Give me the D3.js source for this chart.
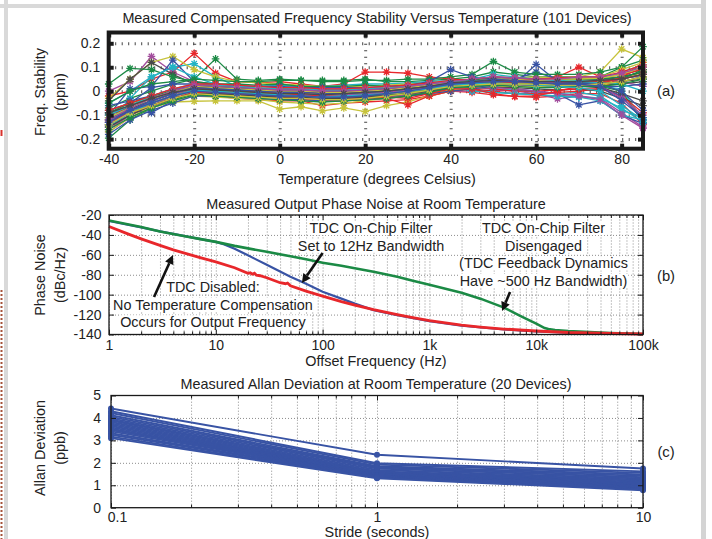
<!DOCTYPE html>
<html>
<head>
<meta charset="utf-8">
<script src="https://cdn.jsdelivr.net/npm/d3@7"></script>
<style>
body { margin: 0; background: #fff; }
svg { display: block; font-family: "Liberation Sans", Arial, Helvetica, sans-serif; }
</style>
</head>
<body>
<svg id="fig" width="712" height="539"></svg>
<script>
// ---------------- data: (a) frequency stability vs temperature ----------------
const temps = [-40,-35,-30,-25,-20,-15,-10,-5,0,5,10,15,20,25,30,35,40,45,50,55,60,65,70,75,80,85];
const tempTicks = [-40,-20,0,20,40,60,80];
const ppmTicks = [-0.2,-0.1,0,0.1,0.2];
const ppmTickLabels = ["-0.2","-0.1","0","0.1","0.2"];
// one row per device (subset of the 101 devices), ppm
const stabilityPpm = [
  [-0.12,-0.06,-0.02,0.01,0.02,0.015,0.01,0.005,0.0,-0.005,-0.01,-0.01,-0.005,0.0,0.005,0.02,0.03,0.035,0.04,0.04,0.045,0.04,0.04,0.045,0.06,0.08],
  [-0.07,-0.03,0.0,0.03,0.05,0.135,0.05,0.045,0.05,0.045,0.045,0.045,0.05,0.04,0.04,0.045,0.05,0.06,0.08,0.07,0.06,0.06,0.06,0.06,0.07,0.09],
  [-0.02,0.0,0.05,0.08,0.158,0.075,0.04,0.035,0.04,0.03,0.02,0.03,0.08,0.08,0.075,0.06,0.05,0.045,0.05,0.04,0.05,0.06,0.1,0.06,0.07,0.09],
  [-0.05,0.0,0.06,0.1,0.115,0.06,0.02,0.02,0.025,0.02,0.02,0.025,0.03,0.03,0.035,0.04,0.045,0.04,0.05,0.04,0.035,0.03,0.03,0.02,0.01,-0.12],
  [0.0,0.04,0.145,0.08,0.04,0.03,0.02,0.02,0.015,0.02,0.01,0.01,0.01,0.015,0.02,0.03,0.035,0.04,0.05,0.05,0.045,0.04,0.04,0.045,0.05,0.07],
  [-0.03,0.05,0.12,0.145,0.09,0.06,0.04,0.035,0.03,0.025,0.02,0.02,0.02,0.025,0.03,0.035,0.04,0.05,0.055,0.055,0.06,0.055,0.06,0.08,0.176,0.14],
  [-0.04,0.05,0.12,0.07,0.03,0.02,0.01,0.0,-0.005,-0.01,-0.015,-0.01,0.0,0.005,0.01,0.02,0.03,0.03,0.035,0.03,0.03,0.03,0.03,0.035,0.04,0.05],
  [-0.1,0.01,0.02,0.13,0.04,0.025,0.015,0.01,0.005,0.0,-0.005,0.0,0.005,0.01,0.015,0.02,0.03,0.04,0.05,0.05,0.08,0.05,0.04,0.05,0.06,0.06],
  [0.03,0.095,0.09,0.06,0.04,0.03,0.03,0.025,0.03,0.02,0.02,0.02,0.025,0.02,0.02,0.025,0.03,0.03,0.04,0.035,0.03,0.03,0.025,0.02,0.0,-0.13],
  [-0.15,-0.1,-0.06,-0.03,-0.01,-0.02,-0.03,-0.035,-0.04,-0.04,-0.06,-0.05,-0.045,-0.04,-0.035,-0.02,0.0,-0.005,-0.015,-0.022,-0.026,-0.02,-0.01,-0.01,-0.05,-0.14],
  [-0.13,-0.03,0.06,0.1,0.06,0.03,0.01,0.005,0.0,-0.005,-0.01,-0.01,-0.005,0.0,0.005,0.01,0.02,0.015,0.01,0.005,-0.005,-0.01,-0.005,-0.02,-0.08,-0.11],
  [-0.17,-0.11,-0.07,-0.03,-0.005,-0.01,-0.015,-0.02,-0.025,-0.03,-0.035,-0.035,-0.03,-0.025,-0.02,-0.01,0.0,0.0,0.005,0.0,-0.01,-0.032,-0.02,-0.03,-0.09,-0.15],
  [-0.16,-0.1,-0.07,-0.045,-0.042,-0.04,-0.04,-0.04,-0.075,-0.065,-0.082,-0.07,-0.085,-0.06,-0.045,-0.02,0.0,0.01,0.02,0.02,0.02,0.025,0.03,0.03,0.05,0.08],
  [-0.11,-0.07,-0.04,-0.01,0.01,0.005,0.0,-0.005,-0.01,-0.015,-0.02,-0.02,-0.02,-0.015,-0.01,0.0,0.01,0.015,0.02,0.02,0.02,0.02,0.02,0.025,0.03,0.04],
  [-0.14,-0.08,-0.09,-0.04,0.0,0.0,-0.005,-0.01,-0.015,-0.02,-0.025,-0.025,-0.02,-0.015,-0.01,0.0,0.01,0.02,0.02,0.01,0.0,-0.01,-0.057,-0.04,-0.1,-0.135],
  [-0.196,-0.12,-0.07,-0.035,-0.01,-0.01,-0.015,-0.02,-0.02,-0.02,-0.025,-0.025,-0.02,-0.015,-0.01,-0.005,0.005,0.01,0.02,0.02,0.025,0.03,0.04,0.06,0.1,0.186],
  [-0.12,-0.08,-0.05,-0.02,0.0,0.0,-0.01,-0.02,-0.03,-0.035,-0.04,-0.04,-0.035,-0.03,-0.057,-0.02,0.0,0.01,0.0,-0.01,-0.01,-0.005,0.0,0.01,0.06,0.1],
  [-0.09,-0.06,-0.03,-0.01,0.01,0.01,0.005,0.0,-0.005,-0.01,-0.015,-0.015,-0.01,-0.005,0.0,0.01,0.015,0.005,-0.005,-0.01,-0.015,-0.02,-0.025,-0.04,-0.1,-0.12],
  [-0.15,-0.1,-0.06,-0.02,0.005,0.0,-0.005,-0.01,-0.015,-0.02,-0.025,-0.03,-0.03,-0.025,-0.02,-0.01,0.005,0.01,0.02,0.02,0.025,0.03,0.04,0.05,0.07,0.1],
  [-0.08,-0.05,-0.03,-0.01,0.005,0.0,-0.005,-0.01,-0.015,-0.015,-0.02,-0.02,-0.015,-0.01,-0.005,0.005,0.015,0.02,0.03,0.035,0.04,0.04,0.045,0.05,0.07,0.1],
  [-0.13,-0.08,-0.05,-0.02,0.0,-0.005,-0.01,-0.015,-0.02,-0.02,-0.025,-0.025,-0.025,-0.02,-0.015,-0.005,0.005,0.01,0.015,0.015,0.01,0.005,0.01,0.0,-0.03,-0.06],
  [-0.06,-0.04,-0.02,0.0,0.025,0.02,0.015,0.01,0.01,0.01,0.005,0.005,0.01,0.01,0.015,0.02,0.03,0.04,0.05,0.04,0.04,0.04,0.04,0.04,0.05,0.07],
  [-0.14,-0.09,-0.05,-0.02,0.005,0.0,-0.005,-0.01,-0.01,-0.01,-0.015,-0.01,-0.01,-0.005,0.0,0.005,0.015,0.02,0.03,0.03,0.03,0.03,0.035,0.04,0.05,0.09],
  [-0.1,-0.07,-0.04,-0.01,0.015,0.01,0.005,0.0,-0.005,-0.005,-0.01,-0.01,-0.005,0.0,0.005,0.015,0.025,0.02,0.01,0.0,0.0,0.005,0.01,0.01,-0.02,-0.09],
  [-0.11,-0.07,-0.04,-0.01,0.01,0.005,0.0,-0.005,-0.01,-0.01,-0.015,-0.015,-0.01,-0.005,0.0,0.01,0.02,0.0,-0.005,-0.01,-0.015,-0.02,-0.025,-0.03,-0.07,-0.13],
  [-0.16,-0.1,-0.05,-0.02,0.0,-0.005,-0.01,-0.015,-0.02,-0.025,-0.03,-0.03,-0.025,-0.02,-0.015,-0.005,0.005,0.01,0.015,0.01,0.0,-0.01,-0.02,-0.035,-0.1,-0.155],
  [-0.17,-0.11,-0.07,-0.04,-0.02,-0.025,-0.03,-0.035,-0.045,-0.05,-0.055,-0.05,-0.04,-0.03,-0.02,-0.01,0.005,0.01,0.02,0.02,0.02,0.02,0.02,0.025,0.04,0.06],
  [-0.12,-0.075,-0.04,-0.01,0.015,0.01,0.005,0.0,0.0,-0.005,-0.005,0.0,0.0,0.005,0.01,0.015,0.02,0.025,0.03,0.03,0.035,0.035,0.04,0.045,0.06,0.08],
  [-0.18,-0.12,-0.08,-0.05,-0.02,-0.02,-0.025,-0.03,-0.035,-0.035,-0.04,-0.04,-0.035,-0.03,-0.02,-0.01,0.0,0.01,0.02,0.03,0.112,0.04,0.03,0.02,-0.02,-0.12],
  [-0.05,0.0,0.03,0.04,0.05,0.045,0.04,0.04,0.045,0.045,0.04,0.04,0.045,0.045,0.05,0.05,0.06,0.07,0.124,0.08,0.07,0.07,0.07,0.08,0.1,0.13],
  [-0.13,-0.09,-0.06,-0.03,-0.005,-0.01,-0.015,-0.02,-0.025,-0.03,-0.035,-0.035,-0.03,-0.025,-0.03,-0.01,0.01,0.01,-0.01,-0.022,-0.02,0.0,0.02,0.03,0.06,0.12],
  [-0.15,-0.09,-0.05,-0.02,0.0,0.0,-0.005,-0.005,-0.01,-0.01,-0.01,-0.01,-0.005,0.0,0.005,0.01,0.02,0.02,0.03,0.03,0.035,0.04,0.045,0.05,0.08,0.11],
  [-0.09,-0.06,-0.03,0.0,0.02,0.015,0.01,0.01,0.005,0.005,0.0,0.0,0.005,0.01,0.015,0.02,0.03,0.035,0.045,0.045,0.05,0.05,0.05,0.05,0.04,0.02],
  [-0.12,-0.08,-0.05,-0.02,0.0,0.0,-0.005,-0.005,-0.01,-0.01,-0.01,-0.005,0.0,0.005,0.01,0.02,0.03,0.03,0.035,0.035,0.04,0.04,0.05,0.06,0.09,0.12],
  [-0.1,-0.06,-0.03,0.0,0.02,0.015,0.01,0.005,0.0,0.0,-0.005,0.0,0.005,0.01,0.015,0.02,0.025,0.03,0.035,0.03,0.025,0.02,0.02,0.015,-0.01,-0.04],
  [-0.08,-0.05,0.015,0.03,0.03,0.025,0.02,0.02,0.02,0.015,0.015,0.015,0.015,0.02,0.025,0.04,0.09,0.06,0.05,0.05,0.05,0.045,0.03,0.02,0.02,0.03],
  [-0.09,-0.05,-0.02,0.0,0.02,0.02,0.015,0.01,0.01,0.005,0.0,0.0,0.005,0.01,0.02,0.03,0.04,0.045,0.06,0.055,0.05,0.05,0.05,0.05,0.06,0.08],
  [-0.14,-0.09,-0.05,-0.02,0.01,0.005,0.0,-0.005,-0.01,-0.015,-0.02,-0.02,-0.015,-0.01,0.0,0.01,0.03,0.04,0.04,0.035,0.03,0.035,0.04,0.04,0.05,0.07],
  [-0.1,-0.06,-0.02,0.01,0.03,0.025,0.02,0.015,0.01,0.01,0.005,0.005,0.01,0.015,0.02,0.03,0.04,0.05,0.07,0.06,0.05,0.045,0.04,0.035,0.03,0.0],
  [-0.13,-0.08,-0.04,-0.01,0.01,0.01,0.005,0.0,-0.005,-0.01,-0.015,-0.015,-0.01,-0.005,0.005,0.015,0.03,0.035,0.045,0.04,0.04,0.035,0.03,0.02,-0.03,-0.1],
  [-0.11,-0.07,-0.03,0.0,0.02,0.015,0.01,0.005,0.0,0.0,-0.005,-0.005,0.0,0.005,0.015,0.025,0.035,0.04,0.05,0.05,0.045,0.05,0.05,0.055,0.07,0.1],
  [-0.15,-0.1,-0.06,-0.03,-0.01,-0.01,-0.015,-0.02,-0.025,-0.025,-0.03,-0.03,-0.025,-0.02,-0.01,0.0,0.02,0.025,0.03,0.03,0.03,0.03,0.03,0.03,0.04,0.06],
  [-0.12,-0.08,-0.04,-0.01,0.015,0.01,0.005,0.0,-0.005,-0.005,-0.01,-0.01,-0.005,0.0,0.01,0.02,0.035,0.04,0.05,0.045,0.04,0.04,0.035,0.03,0.0,-0.08],
  [-0.16,-0.11,-0.07,-0.04,-0.015,-0.02,-0.025,-0.03,-0.035,-0.04,-0.045,-0.04,-0.035,-0.03,-0.02,-0.005,0.015,0.02,0.025,0.02,0.015,0.015,0.02,0.02,0.03,0.05],
  [-0.08,-0.05,-0.02,0.01,0.03,0.03,0.025,0.02,0.015,0.015,0.01,0.01,0.015,0.02,0.025,0.035,0.045,0.05,0.06,0.055,0.05,0.055,0.06,0.06,0.08,0.11],
  [-0.14,-0.09,-0.05,-0.02,0.005,0.0,-0.005,-0.01,-0.015,-0.02,-0.025,-0.02,-0.015,-0.01,0.0,0.01,0.025,0.03,0.035,0.03,0.025,0.02,0.015,0.0,-0.06,-0.12],
  [-0.12,-0.07,-0.03,0.0,0.025,0.02,0.015,0.01,0.005,0.005,0.0,0.0,0.005,0.01,0.02,0.03,0.04,0.05,0.06,0.055,0.05,0.05,0.06,0.06,0.075,0.1],
  [-0.14,-0.09,-0.06,-0.03,-0.01,-0.015,-0.02,-0.025,-0.03,-0.03,-0.035,-0.035,-0.03,-0.02,-0.01,0.005,0.02,0.025,0.03,0.03,0.03,0.025,0.025,0.03,0.04,0.06],
  [-0.09,-0.06,-0.03,-0.005,0.01,0.005,0.0,-0.005,-0.01,-0.01,-0.015,-0.01,-0.005,0.0,0.01,0.02,0.035,0.04,0.045,0.04,0.04,0.04,0.04,0.045,0.05,0.07],
  [-0.13,-0.08,-0.05,-0.02,0.0,-0.005,-0.01,-0.015,-0.02,-0.02,-0.025,-0.025,-0.02,-0.01,0.0,0.015,0.03,0.035,0.04,0.04,0.035,0.03,0.03,0.02,-0.04,-0.11]
];

// ---------------- data: (b) phase noise ----------------
const pnBlueFreq = [1,2,3,5,7,10,12,15,20,30,50,70,100,150,200,300,500,1000,2000,5000,10000,20000,50000,100000];
const pnBlueDb   = [-26,-32.5,-36.5,-41,-44,-47,-49.5,-54,-60.5,-70,-82,-89,-97,-104,-109,-115.5,-120.5,-126.5,-131,-135,-137,-138.2,-139.2,-139.7];
const pnGreenFreq = [1,2,3,5,7,10,15,20,30,50,70,100,150,200,300,500,700,1000,2000,3000,5000,7000,10000,12000,13000,15000,20000,50000,100000];
const pnGreenDb   = [-25.5,-32,-36.5,-41,-44,-47,-51,-53.5,-57,-61.5,-64.5,-68,-71,-73.5,-77,-82,-86,-90,-98,-104,-113,-121,-129,-133.5,-134.5,-135.5,-136.5,-138.5,-139.5];
const pnRedFreq = [1,1.5,2,3,4,5,7,10,15,20,21,22,23,24,26,30,40,45,47,50,70,100,150,200,300,500,700,1000,2000,3000,5000,7000,10000,20000,50000,100000];
const pnRedDb   = [-31.5,-39,-44,-50.5,-55,-58,-62.5,-67,-73,-78.5,-78,-79.5,-78.5,-80.5,-81,-83,-88,-89,-88.3,-91,-96.5,-101.5,-107,-110.5,-115,-120,-123,-126,-130.5,-132.5,-134.5,-135.5,-136.5,-138,-139,-139.5];
const dbTicks = [-140,-120,-100,-80,-60,-40,-20];
const freqTicks = [1,10,100,1000,10000,100000];
const freqTickLabels = ["1","10","100","1k","10k","100k"];

// ---------------- data: (c) Allan deviation ----------------
const strides = [0.1,1,10];
const strideTickLabels = ["0.1","1","10"];
const ppbTicks = [0,1,2,3,4,5];
const allanPpb = [
  [4.42,2.36,1.75],[4.30,1.98,1.62],[4.22,1.92,1.55],[4.12,1.85,1.48],[4.05,1.80,1.42],
  [3.98,1.75,1.36],[3.92,1.68,1.30],[3.88,1.62,1.25],[3.82,1.58,1.20],[3.76,1.55,1.15],
  [3.70,1.52,1.10],[3.64,1.49,1.06],[3.58,1.46,1.02],[3.52,1.44,0.98],[3.46,1.42,0.95],
  [3.40,1.40,0.92],[3.32,1.38,0.88],[3.25,1.36,0.85],[3.17,1.34,0.82],[3.10,1.31,0.78]
];

// ---------------- drawing ----------------
const FONT = 14.4;
const matlabColors = ["#3853a4","#1b8a45","#e8272b","#22b3c4","#a24c9d","#c7c33b","#4a4a4a"];
const svg = d3.select("#fig");

// page frame (gray gutters of the scanned page)
svg.append("rect").attr("x", 0).attr("y", 4).attr("width", 706).attr("height", 4).attr("fill", "#d9d9d9");
svg.append("rect").attr("x", 4).attr("y", 0).attr("width", 4).attr("height", 539).attr("fill", "#d9d9d9");
svg.append("rect").attr("x", 701).attr("y", 0).attr("width", 5).attr("height", 539).attr("fill", "#d4d4d4");
svg.append("line").attr("x1", 1.5).attr("x2", 1.5).attr("y1", 290).attr("y2", 539)
  .attr("stroke", "#a5533a").attr("stroke-width", 2).attr("stroke-dasharray", "2,2");
svg.append("line").attr("x1", 1.5).attr("x2", 1.5).attr("y1", 130).attr("y2", 136)
  .attr("stroke", "#d9322c").attr("stroke-width", 2);

function label(g, x, y, txt, rot) {
  return g.append("text")
    .attr("transform", "translate(" + x + "," + y + ")" + (rot ? " rotate(-90)" : ""))
    .attr("text-anchor", "middle").attr("dy", "0.35em")
    .attr("font-size", FONT).attr("fill", "#222").text(txt);
}

function styleAxis(sel, size) {
  sel.select(".domain").remove();
  sel.selectAll("text").attr("font-size", size || 14).attr("fill", "#222")
    .attr("font-family", "Liberation Sans, Arial, sans-serif");
}

function logMinors(lo, hi) {
  const out = [];
  for (let d = lo; d < hi * 0.999; d *= 10) for (let k = 2; k < 10; k++) out.push(d * k);
  return out;
}

const plain = d => String(d);  // keep ASCII hyphen for negatives, as in the original

// ---------- panel (a) ----------
const xA = d3.scaleLinear().domain([-40, 85]).range([108.7, 643]);
const yA = d3.scaleLinear().domain([-0.24, 0.245]).range([148.7, 32.5]);
const gA = svg.append("g");

// dotted grid
gA.append("g").attr("transform", "translate(0," + yA.range()[0] + ")")
  .call(d3.axisBottom(xA).tickValues(tempTicks.slice(1)).tickSize(-(yA.range()[0] - yA.range()[1])).tickFormat(""))
  .call(s => s.select(".domain").remove())
  .selectAll("line").attr("stroke", "#444").attr("stroke-width", 3).attr("stroke-dasharray", "1,5.5");
gA.append("g").attr("transform", "translate(" + xA.range()[0] + ",0)")
  .call(d3.axisLeft(yA).tickValues(ppmTicks).tickSize(-(xA.range()[1] - xA.range()[0])).tickFormat(""))
  .call(s => s.select(".domain").remove())
  .selectAll("line").attr("stroke", "#444").attr("stroke-width", 3).attr("stroke-dasharray", "1,5.5");

const star = "M-3.8,0H3.8M0,-3.8V3.8M-2.7,-2.7L2.7,2.7M-2.7,2.7L2.7,-2.7";
const lineA = d3.line().x((d, i) => xA(temps[i])).y(d => yA(d));
const dev = gA.selectAll(".dev").data(stabilityPpm).enter().append("g");
dev.append("path").attr("d", d => lineA(d)).attr("fill", "none")
  .attr("stroke", (d, i) => matlabColors[i % 7]).attr("stroke-width", 1.3);
dev.each(function (row, i) {
  d3.select(this).selectAll("path.m").data(row).enter().append("path").attr("class", "m")
    .attr("d", star).attr("transform", (d, j) => "translate(" + xA(temps[j]) + "," + yA(d) + ")")
    .attr("stroke", matlabColors[i % 7]).attr("stroke-width", 1.3).attr("fill", "none");
});

// thick box and square ticks
gA.append("rect").attr("x", xA.range()[0]).attr("y", yA.range()[1])
  .attr("width", xA.range()[1] - xA.range()[0]).attr("height", yA.range()[0] - yA.range()[1])
  .attr("fill", "none").attr("stroke", "#1a1a1a").attr("stroke-width", 4);
const axA = gA.append("g").attr("transform", "translate(0," + yA.range()[0] + ")")
  .call(d3.axisBottom(xA).tickValues(tempTicks).tickSize(-5).tickPadding(5.5).tickFormat(plain));
styleAxis(axA);
axA.selectAll("line").attr("stroke", "#1a1a1a").attr("stroke-width", 4);
gA.append("g").attr("transform", "translate(0," + yA.range()[1] + ")")
  .call(d3.axisTop(xA).tickValues(tempTicks).tickSize(-5).tickFormat(""))
  .call(s => s.select(".domain").remove())
  .selectAll("line").attr("stroke", "#1a1a1a").attr("stroke-width", 4);
const ayA = gA.append("g").attr("transform", "translate(" + xA.range()[0] + ",0)")
  .call(d3.axisLeft(yA).tickValues(ppmTicks).tickSize(-5).tickPadding(8.5).tickFormat((d, i) => ppmTickLabels[i]));
styleAxis(ayA);
ayA.selectAll("line").attr("stroke", "#1a1a1a").attr("stroke-width", 4);
gA.append("g").attr("transform", "translate(" + xA.range()[1] + ",0)")
  .call(d3.axisRight(yA).tickValues(ppmTicks).tickSize(-5).tickFormat(""))
  .call(s => s.select(".domain").remove())
  .selectAll("line").attr("stroke", "#1a1a1a").attr("stroke-width", 4);

label(gA, 377, 18, "Measured Compensated Frequency Stability Versus Temperature (101 Devices)");
label(gA, 377, 179, "Temperature (degrees Celsius)");
label(gA, 40, 92, "Freq. Stability", true);
label(gA, 60, 92, "(ppm)", true);
label(gA, 666, 91, "(a)").attr("font-size", 14.8);

// ---------- generic thin box for (b) and (c) ----------
function thinGrid(g, x, y, xt, xMinor, yt) {
  const [xl, xr] = x.range(), [yb, yt0] = y.range();
  const gridStyle = s => s.call(a => a.select(".domain").remove())
    .selectAll("line").attr("stroke", "#8c8c8c").attr("stroke-width", 1).attr("stroke-dasharray", "1,2");
  g.append("g").attr("transform", "translate(0," + yb + ")")
    .call(d3.axisBottom(x).tickValues(xt.concat(xMinor)).tickSize(-(yb - yt0)).tickFormat(""))
    .call(gridStyle);
  g.append("g").attr("transform", "translate(" + xl + ",0)")
    .call(d3.axisLeft(y).tickValues(yt).tickSize(-(xr - xl)).tickFormat(""))
    .call(gridStyle);
}

function thinFrame(g, x, y, xt, xFmt, xMinor, yt, padX, padY) {
  const [xl, xr] = x.range(), [yb, yt0] = y.range();
  g.append("rect").attr("x", xl).attr("y", yt0).attr("width", xr - xl).attr("height", yb - yt0)
    .attr("fill", "none").attr("stroke", "#1a1a1a").attr("stroke-width", 1.3);
  const bx = g.append("g").attr("transform", "translate(0," + yb + ")")
    .call(d3.axisBottom(x).tickValues(xt).tickSize(-5).tickPadding(padX).tickFormat(xFmt));
  styleAxis(bx);
  g.append("g").attr("transform", "translate(0," + yb + ")")
    .call(d3.axisBottom(x).tickValues(xMinor).tickSize(-3).tickFormat("")).call(s => s.select(".domain").remove());
  g.append("g").attr("transform", "translate(0," + yt0 + ")")
    .call(d3.axisTop(x).tickValues(xt).tickSize(-5).tickFormat("")).call(s => s.select(".domain").remove());
  g.append("g").attr("transform", "translate(0," + yt0 + ")")
    .call(d3.axisTop(x).tickValues(xMinor).tickSize(-3).tickFormat("")).call(s => s.select(".domain").remove());
  const ly = g.append("g").attr("transform", "translate(" + xl + ",0)")
    .call(d3.axisLeft(y).tickValues(yt).tickSize(-5).tickPadding(padY).tickFormat(plain));
  styleAxis(ly);
  g.append("g").attr("transform", "translate(" + xr + ",0)")
    .call(d3.axisRight(y).tickValues(yt).tickSize(-5).tickFormat("")).call(s => s.select(".domain").remove());
  g.selectAll(".tick line").filter(function () { return !this.getAttribute("stroke-dasharray"); })
    .attr("stroke", "#1a1a1a");
  return bx;
}

// ---------- panel (b) ----------
const xB = d3.scaleLog().domain([1, 1e5]).range([109, 643]);
const yB = d3.scaleLinear().domain([-140, -20]).range([334.5, 215]);
const gB = svg.append("g");
const minorsB = logMinors(1, 1e5);
thinGrid(gB, xB, yB, freqTicks, minorsB, dbTicks);

const lineB = d3.line().x(d => xB(d[0])).y(d => yB(d[1]));
gB.append("path").attr("d", lineB(d3.zip(pnBlueFreq, pnBlueDb)))
  .attr("fill", "none").attr("stroke", "#3853a4").attr("stroke-width", 2.2);
gB.append("path").attr("d", lineB(d3.zip(pnGreenFreq, pnGreenDb)))
  .attr("fill", "none").attr("stroke", "#1b8a45").attr("stroke-width", 2.6);
gB.append("path").attr("d", lineB(d3.zip(pnRedFreq, pnRedDb)))
  .attr("fill", "none").attr("stroke", "#e8272b").attr("stroke-width", 2.8);

thinFrame(gB, xB, yB, freqTicks, (d, i) => freqTickLabels[i], minorsB, dbTicks, 5.5, 7.5);

// annotations (positions in data units)
const notes = [
  { f: 284, db: -33.1, lines: ["TDC On-Chip Filter", "Set to 12Hz Bandwidth"] },
  { f: 9.4, db: -92.3, lines: ["TDC Disabled:", "No Temperature Compensation", "Occurs for Output Frequency"] },
  { f: 11700, db: -33.1, lines: ["TDC On-Chip Filter", "Disengaged", "(TDC Feedback Dynamics", "Have ~500 Hz Bandwidth)"] }
];
const arrows = [
  { f0: 100, db0: -58.2, f1: 64, db1: -88.3 },
  { f0: 2.64, db0: -102.3, f1: 3.97, db1: -60.2 },
  { f0: 5690, db0: -97.3, f1: 4790, db1: -116.4 }
];
notes.forEach(n => {
  n.lines.forEach((t, k) => {
    const tx = label(gB, xB(n.f), yB(n.db) + k * 17.6, t);
    const bb = tx.node().getBBox();
    const m = tx.node().getCTM();
    gB.insert("rect", function () { return tx.node(); })
      .attr("x", m.e + bb.x - 1).attr("y", m.f + bb.y + 1).attr("width", bb.width + 2).attr("height", bb.height - 2)
      .attr("fill", "#fff");
  });
});
arrows.forEach(a => {
  const x0 = xB(a.f0), y0 = yB(a.db0), x1 = xB(a.f1), y1 = yB(a.db1);
  const ang = Math.atan2(y1 - y0, x1 - x0), L = 9, W = 4.5;
  const bx = x1 - L * Math.cos(ang), by = y1 - L * Math.sin(ang);
  gB.append("line").attr("x1", x0).attr("y1", y0).attr("x2", bx).attr("y2", by)
    .attr("stroke", "#111").attr("stroke-width", 2.6);
  gB.append("path").attr("fill", "#111")
    .attr("d", "M" + x1 + "," + y1 +
      "L" + (bx + W * Math.sin(ang)) + "," + (by - W * Math.cos(ang)) +
      "L" + (bx - W * Math.sin(ang)) + "," + (by + W * Math.cos(ang)) + "Z");
});

label(gB, 376, 204, "Measured Output Phase Noise at Room Temperature");
label(gB, 376, 361, "Offset Frequency (Hz)");
label(gB, 40, 275, "Phase Noise", true);
label(gB, 60, 275, "(dBc/Hz)", true);
label(gB, 666, 276, "(b)").attr("font-size", 14.8);

// ---------- panel (c) ----------
const xC = d3.scaleLog().domain([0.1, 10]).range([111, 643]);
const yC = d3.scaleLinear().domain([0, 5]).range([507.7, 395.5]);
const gC = svg.append("g");
const minorsC = logMinors(0.1, 10);
thinGrid(gC, xC, yC, strides, minorsC, ppbTicks.slice(1, 5));

const lineC = d3.line().x((d, i) => xC(strides[i])).y(d => yC(d));
gC.selectAll(".ad").data(allanPpb).enter().append("path")
  .attr("d", d => lineC(d)).attr("fill", "none").attr("stroke", "#3853a4").attr("stroke-width", 1.9);
allanPpb.forEach(row => {
  gC.selectAll(null).data(row).enter().append("circle")
    .attr("cx", (d, i) => xC(strides[i])).attr("cy", d => yC(d)).attr("r", 3).attr("fill", "#3853a4");
});

const bxC = thinFrame(gC, xC, yC, strides, (d, i) => strideTickLabels[i], minorsC, ppbTicks, 4, 10);
bxC.selectAll(".tick text").filter(d => d === 0.1).attr("dx", 6);

label(gC, 376, 384, "Measured Allan Deviation at Room Temperature (20 Devices)");
label(gC, 377, 532, "Stride (seconds)");
label(gC, 40, 448, "Allan Deviation", true);
label(gC, 60, 448, "(ppb)", true);
label(gC, 666, 452, "(c)").attr("font-size", 14.8);
</script>
</body>
</html>
